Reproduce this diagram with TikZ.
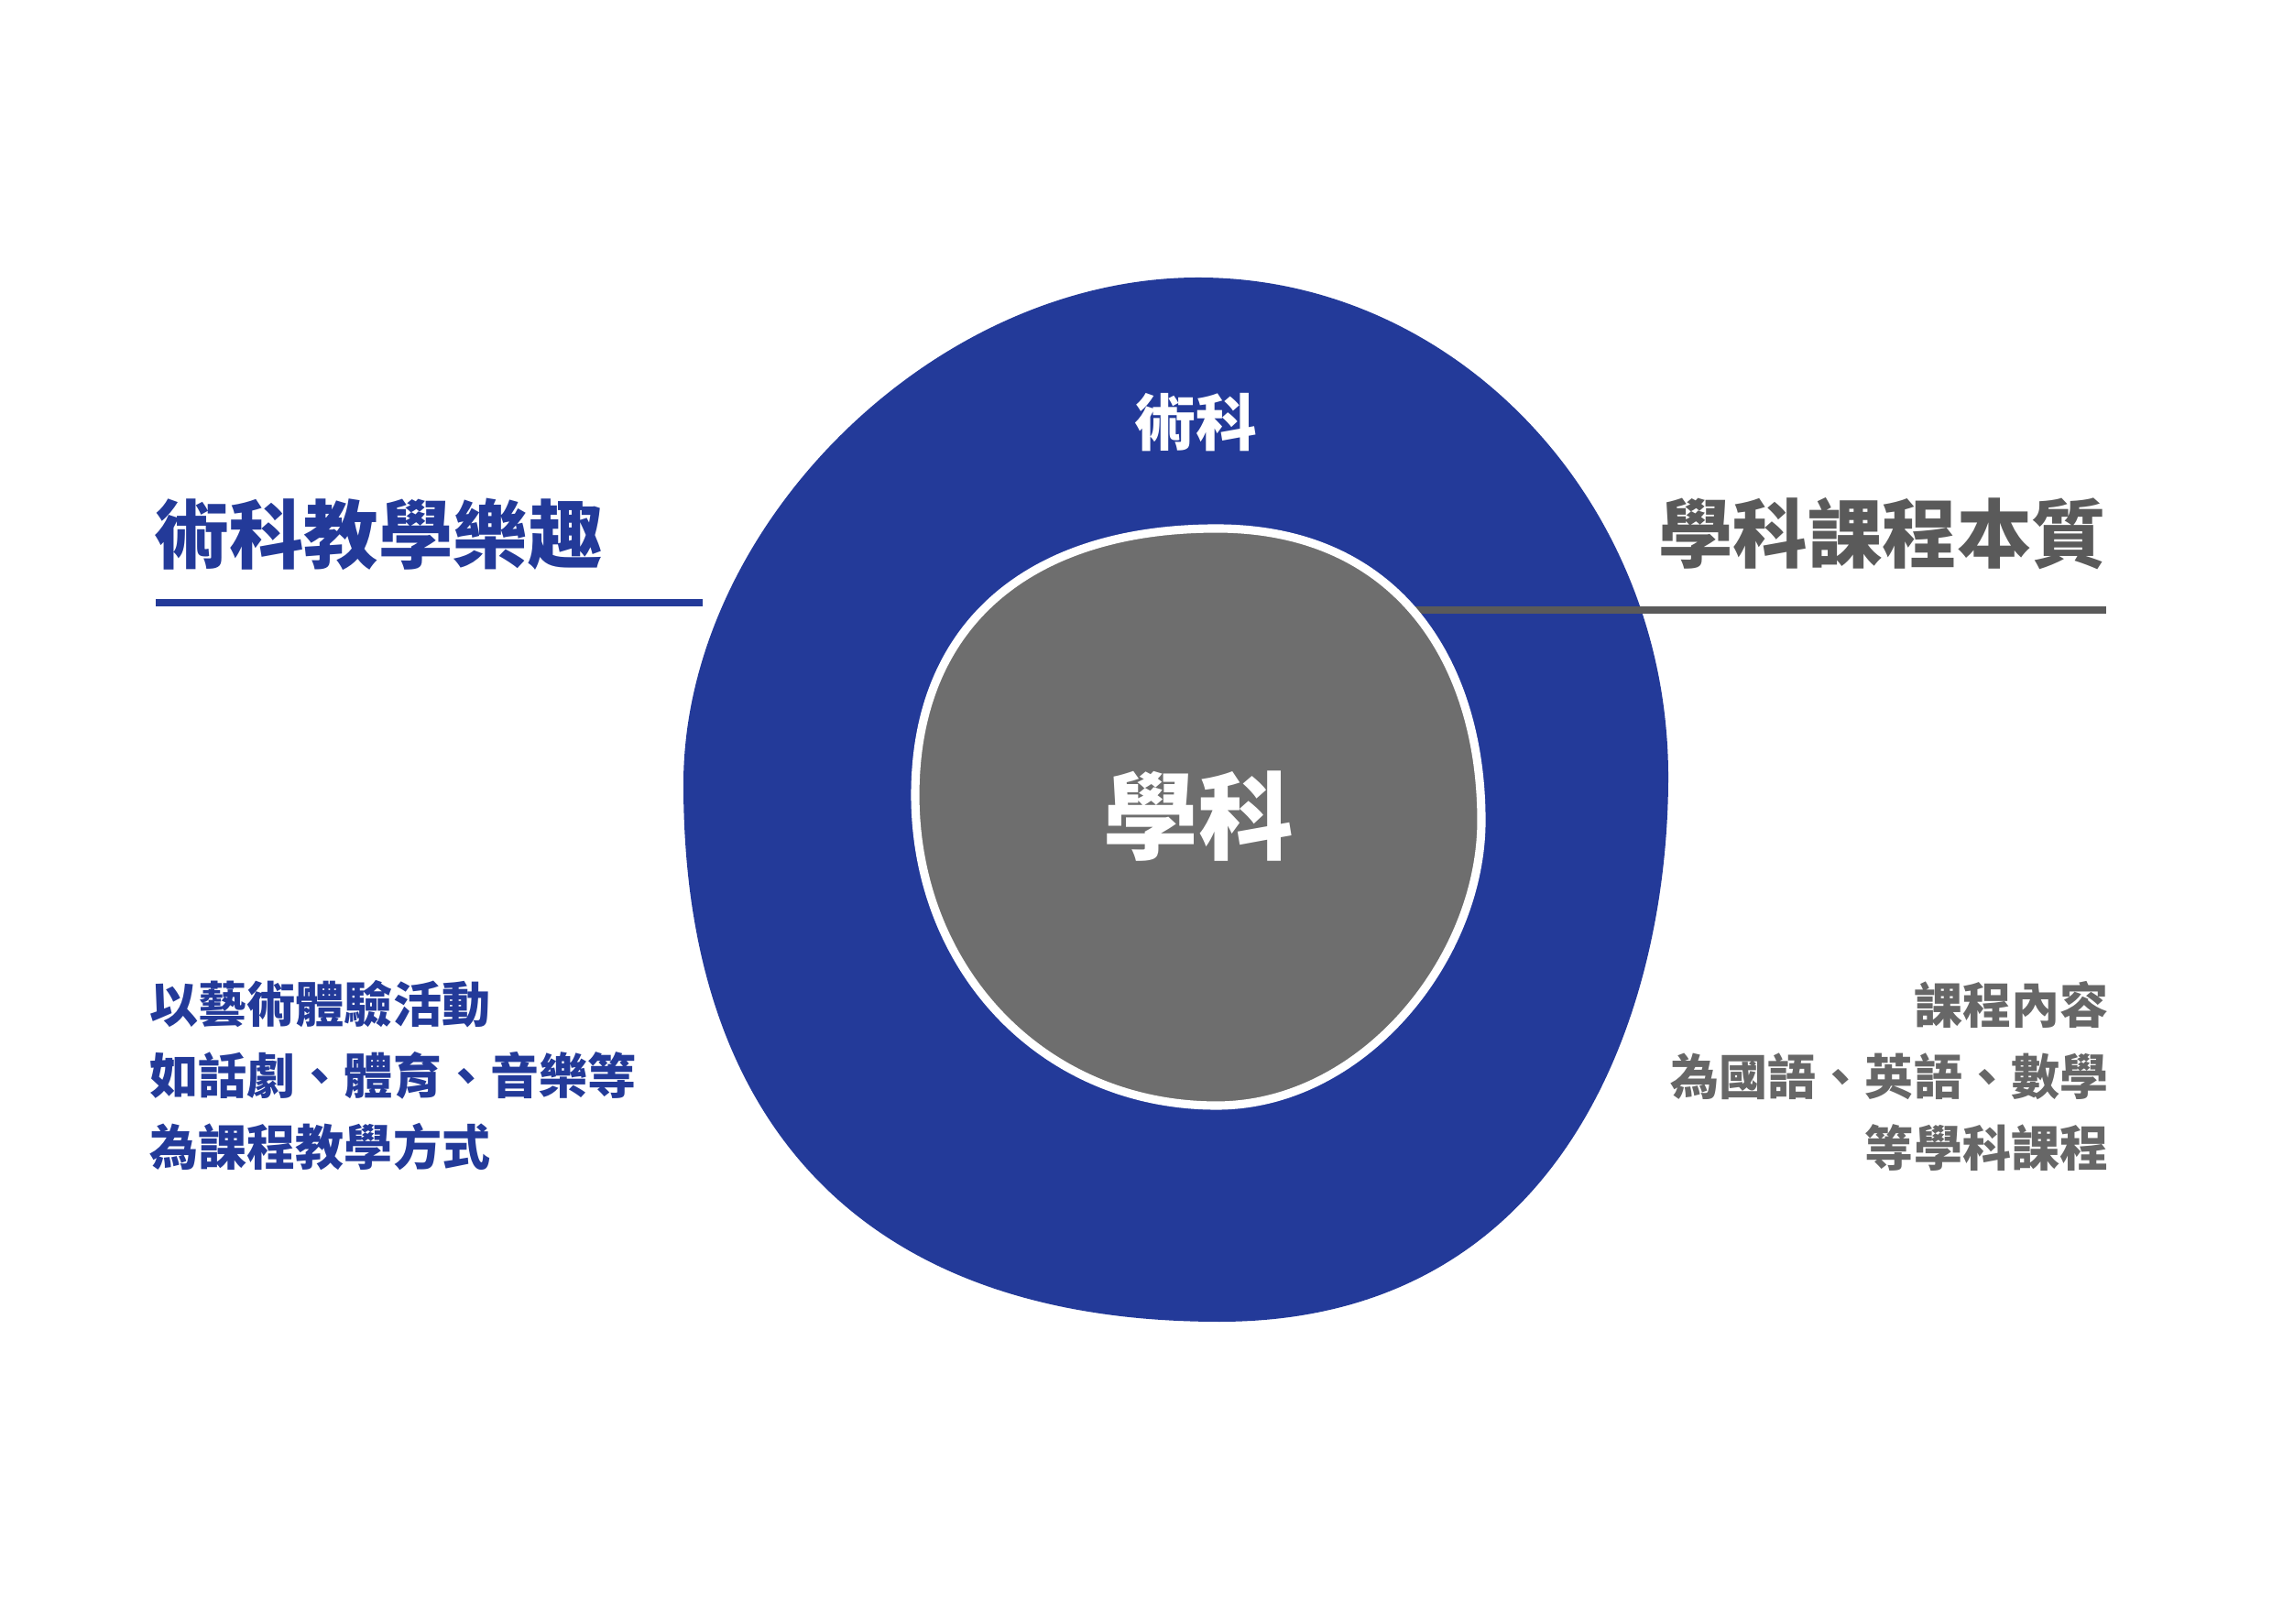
\documentclass[tikz,border=0pt]{standalone}
\usepackage{fontspec}
\usepackage{tikz}
\newfontfamily\cjk{Noto Sans CJK TC}
\definecolor{artblue}{HTML}{233A99}
\definecolor{coregray}{HTML}{6E6E6E}
\definecolor{linegray}{HTML}{5A5A5A}
\definecolor{textgray}{HTML}{676767}
\usetikzlibrary{positioning,calc}

\begin{document}
\begin{tikzpicture}[
			heading/.style={inner sep=0pt, font=\cjk\bfseries\fontsize{23.2}{28}\selectfont},
			para/.style={inner sep=0pt, font=\cjk\bfseries\fontsize{15.1}{22.2}\selectfont},
			artline/.style={artblue, line width=2.4pt},
			coreline/.style={linegray, line width=2.2pt},
			]
			\useasboundingbox (0,0) rectangle (24.8,17.72);
			
			% Outer blob (arts)
			\fill[artblue] (13.08,14.69)
				.. controls (15.90,14.69) and (18.21,12.24) .. (18.21,9.24)
				.. controls (18.21,6.74) and (17.11,3.29) .. (13.31,3.29)
				.. controls (9.51,3.29) and (7.46,5.36) .. (7.46,9.16)
				.. controls (7.46,11.96) and (10.18,14.69) .. (13.08,14.69) -- cycle;
			
			% Underline of the right heading (starts under the inner blob)
			\coordinate (coreL) at (15.30,11.06);
			\coordinate (coreR) at (22.99,11.06);
			\draw[coreline] (coreL) -- (coreR);
			
			% Inner blob (academic subjects)
			\filldraw[fill=coregray, draw=white, line width=2.6pt] (13.28,11.95)
				.. controls (15.28,11.95) and (16.17,10.46) .. (16.17,8.76)
				.. controls (16.17,7.26) and (14.88,5.65) .. (13.28,5.65)
				.. controls (11.38,5.65) and (9.99,7.14) .. (9.99,9.04)
				.. controls (9.99,10.94) and (11.28,11.95) .. (13.28,11.95) -- cycle;
			
			% Blob labels
			\node[inner sep=0pt, white, font=\cjk\bfseries\fontsize{19}{23}\selectfont] (arts) at (13.05,13.11) {術科};
			\node[inner sep=0pt, white, font=\cjk\bfseries\fontsize{29.5}{35}\selectfont] (core) at (13.08,8.81) {學科};
			
			% Left heading and underline
			\node[heading, artblue, anchor=west] (arthead) at (1.68,11.89) {術科教學樂趣};
			\coordinate (artL) at (1.70,11.14);
			\coordinate (artR) at (7.67,11.14);
			\draw[artline] (artL) -- (artR);
			
			% Right heading
			\node[heading, linegray, anchor=east] (corehead) at (23.00,11.89) {學科課程本質};
			
			% Descriptions
			\node[para, artblue, align=left, anchor=west] (artdesc) at (1.63,5.975)
			{以藝術體驗活動\\如話劇、體育、音樂等\\為課程教學方式};
			\node[para, textgray, align=right, anchor=east] (coredesc) at (23.02,5.975)
			{課程內容\\為國語、英語、數學\\等學科課程};
		\end{tikzpicture}
\end{document}
